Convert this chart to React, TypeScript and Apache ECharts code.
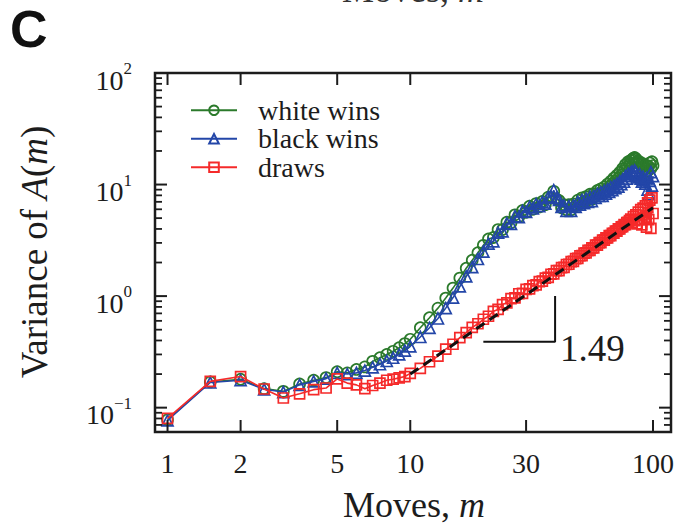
import React, { useEffect, useRef } from 'react';
import * as echarts from 'echarts';

// ---------- data ----------
const moves = [
  1, 1.5, 2, 2.5, 3, 3.5, 4, 4.5, 5, 5.5, 6, 6.5, 7, 7.5, 8, 8.5, 9, 9.5, 10,
  11, 12, 13, 14, 15, 16, 17, 18, 19, 20,
  21, 22, 23, 24, 25, 26, 27, 28, 29, 30,
  31, 32, 33, 34, 35, 36, 37, 38, 39, 40,
  41, 42, 43, 44, 45, 46, 47, 48, 49, 50,
  51, 52, 53, 54, 55, 56, 57, 58, 59, 60,
  61, 62, 63, 64, 65, 66, 67, 68, 69, 70,
  71, 72, 73, 74, 75, 76, 77, 78, 79, 80,
  81, 82, 83, 84, 85, 86, 87, 88, 89, 90,
  91, 92, 93, 94, 95, 96, 97, 98, 99, 100,
];

const whiteWins = [
  0.078, 0.17, 0.18, 0.148, 0.14, 0.163, 0.176, 0.186, 0.21, 0.205, 0.22, 0.232, 0.26, 0.28, 0.3, 0.32, 0.345, 0.375, 0.41,
  0.52, 0.64, 0.78, 0.96, 1.18, 1.45, 1.78, 2.1, 2.45, 2.85,
  3.25, 3.35, 3.95, 3.95, 4.6, 4.55, 5.35, 5.15, 5.85, 5.65,
  6.4, 6.0, 6.75, 6.3, 7.05, 6.6, 7.7, 7.6, 8.7, 7.4,
  7.2, 6.2, 6.6, 5.95, 6.6, 5.95, 6.7, 6.45, 7.25, 6.7,
  7.6, 7.0, 7.8, 7.3, 8.2, 7.4, 8.3, 7.9, 8.85, 8.25,
  9.15, 8.45, 9.5, 8.9, 10.1, 9.5, 10.7, 10.2, 11.45, 10.75,
  12.1, 11.4, 12.9, 12.2, 13.9, 13.2, 15.1, 14.4, 16.0, 15.3,
  16.4, 16.8, 17.2, 17.5, 17.0, 16.2, 15.6, 16.0, 15.1, 14.3,
  15.4, 14.6, 13.8, 14.9, 13.2, 14.5, 15.6, 13.9, 16.0, 14.8,
];

const blackWins = [
  0.077, 0.168, 0.176, 0.146, 0.138, 0.16, 0.172, 0.182, 0.205, 0.2, 0.205, 0.215, 0.23, 0.245, 0.262, 0.28, 0.3, 0.325, 0.355,
  0.43, 0.52, 0.63, 0.78, 0.97, 1.22, 1.5, 1.82, 2.15, 2.5,
  2.95, 3.1, 3.7, 3.8, 4.5, 4.45, 5.2, 5.1, 5.8, 5.7,
  6.3, 6.1, 6.7, 6.4, 7.0, 6.75, 7.7, 7.8, 8.9, 7.6,
  7.3, 6.3, 6.5, 5.8, 6.4, 5.8, 6.5, 6.3, 7.0, 6.6,
  7.3, 6.8, 7.5, 7.0, 7.8, 7.1, 7.9, 7.6, 8.3, 7.9,
  8.5, 7.9, 8.8, 8.3, 9.1, 8.6, 9.5, 8.9, 9.8, 9.3,
  10.2, 9.6, 10.7, 10.1, 11.2, 10.6, 11.9, 11.3, 12.5, 12.0,
  12.8, 13.1, 12.6, 13.4, 12.9, 12.2, 11.6, 12.4, 11.3, 10.6,
  11.8, 10.9, 10.2, 11.5, 9.0, 8.2, 10.8, 12.9, 9.8, 11.9,
];

const draws = [
  0.08, 0.172, 0.19, 0.147, 0.122, 0.133, 0.145, 0.15, 0.181, 0.166, 0.16, 0.148, 0.158, 0.166, 0.176, 0.18, 0.185, 0.19, 0.203,
  0.225, 0.258, 0.29, 0.335, 0.37, 0.425, 0.47, 0.525, 0.565, 0.62,
  0.66, 0.73, 0.76, 0.84, 0.87, 0.95, 0.965, 1.05, 1.06, 1.15,
  1.16, 1.24, 1.26, 1.35, 1.36, 1.45, 1.47, 1.57, 1.58, 1.69,
  1.69, 1.8, 1.81, 1.92, 1.93, 2.04, 2.05, 2.17, 2.18, 2.3,
  2.31, 2.43, 2.44, 2.57, 2.57, 2.71, 2.71, 2.86, 2.86, 3.02,
  3.01, 3.17, 3.17, 3.32, 3.32, 3.49, 3.49, 3.66, 3.66, 3.83,
  3.82, 4.0, 4.0, 4.18, 4.2, 4.38, 4.36, 4.55, 4.58, 4.75,
  4.9, 4.55, 5.15, 4.75, 5.35, 4.45, 5.65, 4.85, 5.95, 4.35,
  6.15, 4.95, 6.45, 4.15, 6.85, 4.85, 7.25, 4.05, 7.6, 5.5,
];

const fitLine = [[10, 0.2], [100, 6.2]];
const slopeGuide = [[20, 0.39], [39.5, 0.39], [39.5, 1.0]];
const slopeLabelAt = [39.5, 0.39];
const slopeLabel = '1.49';

const xTickValues = [1, 2, 5, 10, 30, 100];
const xTickLabels = ['1', '2', '5', '10', '30', '100'];
const yMajorValues = [0.1, 1, 10, 100];
const yMajorExponents = ['\u22121', '0', '1', '2'];
const yMinorValues = [0.07, 0.08, 0.09, 0.2, 0.3, 0.4, 0.5, 0.6, 0.7, 0.8, 0.9, 2, 3, 4, 5, 6, 7, 8, 9, 20, 30, 40, 50, 60, 70, 80, 90];

const X_MIN = 0.888;
const X_MAX = 118.6;
const Y_MIN = 0.0605;
const Y_MAX = 100;

const SERIF = 'Liberation Serif';
const INK = '#1c1c1c';
const GREEN = '#2b7a2b';
const BLUE = '#2346a8';
const RED = '#f52a2a';

function dataSeries(name: string, values: number[], color: string, symbol: string, size: number, z: number) {
  return {
    name,
    type: 'line',
    data: moves.map((m, i) => [m, values[i]]),
    symbol,
    symbolSize: size,
    showSymbol: true,
    showAllSymbol: true,
    lineStyle: { color, width: 1.6 },
    itemStyle: { color: 'rgba(255,255,255,0)', borderColor: color, borderWidth: 1.7 },
    emphasis: { disabled: true },
    silent: true,
    z,
  };
}

export default function App() {
  const ref = useRef<HTMLDivElement>(null);

  useEffect(() => {
    if (!ref.current) return;
    const chart = echarts.init(ref.current, undefined, { renderer: 'svg' });

    const option: any = {
      animation: false,
      backgroundColor: '#ffffff',
      grid: {
        show: true,
        left: 155,
        top: 73,
        width: 516,
        height: 359,
        borderColor: INK,
        borderWidth: 2.5,
        backgroundColor: 'transparent',
      },
      xAxis: {
        type: 'log',
        logBase: 10,
        min: X_MIN,
        max: X_MAX,
        axisLine: { show: false },
        axisTick: { show: false },
        axisLabel: { show: false },
        splitLine: { show: false },
        minorTick: { show: false },
      },
      yAxis: {
        type: 'log',
        logBase: 10,
        min: Y_MIN,
        max: Y_MAX,
        axisLine: { show: false },
        axisTick: { show: false },
        axisLabel: { show: false },
        splitLine: { show: false },
        minorTick: { show: false },
      },
      legend: {
        data: ['white wins', 'black wins', 'draws'],
        orient: 'vertical',
        left: 185,
        top: 91,
        itemWidth: 46,
        itemHeight: 12,
        itemGap: 0,
        selectedMode: false,
        textStyle: {
          fontFamily: SERIF,
          fontSize: 28,
          color: INK,
          lineHeight: 28.5,
          padding: [0, 0, 0, 16],
        },
      },
      graphic: [
        {
          type: 'text',
          x: 10,
          y: 29,
          style: {
            text: 'C',
            fontFamily: 'Liberation Sans',
            fontWeight: 'bold',
            fontSize: 52,
            fill: '#111',
            align: 'left',
            verticalAlign: 'middle',
          },
        },
        {
          type: 'text',
          x: 413,
          y: -10,
          style: {
            text: 'Moves, {i|m}',
            rich: { i: { fontStyle: 'italic', fontFamily: SERIF, fontSize: 36 } },
            fontFamily: SERIF,
            fontSize: 36,
            fill: '#333',
            align: 'center',
            verticalAlign: 'middle',
          },
        },
        {
          type: 'text',
          x: 414,
          y: 505,
          style: {
            text: 'Moves, {i|m}',
            rich: { i: { fontStyle: 'italic', fontFamily: SERIF, fontSize: 36, fill: INK } },
            fontFamily: SERIF,
            fontSize: 36,
            fill: INK,
            align: 'center',
            verticalAlign: 'middle',
          },
        },
        {
          type: 'text',
          x: 34,
          y: 252,
          rotation: Math.PI / 2,
          style: {
            text: 'Variance of {i|A}({i|m})',
            rich: { i: { fontStyle: 'italic', fontFamily: SERIF, fontSize: 37, fill: INK } },
            fontFamily: SERIF,
            fontSize: 37,
            fill: INK,
            align: 'center',
            verticalAlign: 'middle',
          },
        },
      ],
      series: [
        dataSeries('white wins', whiteWins, GREEN, 'circle', 11, 2),
        dataSeries('black wins', blackWins, BLUE, 'triangle', 11, 3),
        dataSeries('draws', draws, RED, 'rect', 10, 4),
        {
          name: 'fit',
          type: 'line',
          data: fitLine,
          symbol: 'none',
          lineStyle: { color: '#111', width: 3, type: [10, 6] },
          silent: true,
          z: 6,
        },
        {
          name: 'slope',
          type: 'line',
          data: slopeGuide,
          symbol: 'none',
          lineStyle: { color: '#111', width: 2 },
          silent: true,
          z: 6,
        },
        {
          name: 'slopeLabel',
          type: 'custom',
          data: [slopeLabelAt],
          clip: false,
          silent: true,
          z: 7,
          renderItem: (params: any, api: any) => {
            const p = api.coord([api.value(0), api.value(1)]);
            return {
              type: 'text',
              x: p[0] + 5,
              y: p[1] + 7,
              style: {
                text: slopeLabel,
                fontFamily: SERIF,
                fontSize: 37,
                fill: INK,
                align: 'left',
                verticalAlign: 'middle',
              },
            };
          },
        },
        {
          name: 'xticks',
          type: 'custom',
          data: xTickValues.map((v) => [v, Y_MIN]),
          clip: false,
          silent: true,
          z: 8,
          renderItem: (params: any, api: any) => {
            const v = api.value(0);
            const b = api.coord([v, Y_MIN]);
            const t = api.coord([v, Y_MAX]);
            return {
              type: 'group',
              children: [
                { type: 'line', shape: { x1: b[0], y1: b[1], x2: b[0], y2: b[1] - 12 }, style: { stroke: INK, lineWidth: 2 } },
                { type: 'line', shape: { x1: t[0], y1: t[1], x2: t[0], y2: t[1] + 12 }, style: { stroke: INK, lineWidth: 2 } },
                {
                  type: 'text',
                  x: b[0],
                  y: b[1] + 31,
                  style: {
                    text: xTickLabels[params.dataIndex],
                    fontFamily: SERIF,
                    fontSize: 28,
                    fill: INK,
                    align: 'center',
                    verticalAlign: 'middle',
                  },
                },
              ],
            };
          },
        },
        {
          name: 'yminor',
          type: 'custom',
          data: yMinorValues.map((v) => [X_MIN, v]),
          clip: false,
          silent: true,
          z: 8,
          renderItem: (params: any, api: any) => {
            const v = api.value(1);
            const l = api.coord([X_MIN, v]);
            const r = api.coord([X_MAX, v]);
            return {
              type: 'group',
              children: [
                { type: 'line', shape: { x1: l[0], y1: l[1], x2: l[0] + 7, y2: l[1] }, style: { stroke: INK, lineWidth: 1.8 } },
                { type: 'line', shape: { x1: r[0], y1: r[1], x2: r[0] - 7, y2: r[1] }, style: { stroke: INK, lineWidth: 1.8 } },
              ],
            };
          },
        },
        {
          name: 'ymajor',
          type: 'custom',
          data: yMajorValues.map((v) => [X_MIN, v]),
          clip: false,
          silent: true,
          z: 8,
          renderItem: (params: any, api: any) => {
            const v = api.value(1);
            const l = api.coord([X_MIN, v]);
            const r = api.coord([X_MAX, v]);
            return {
              type: 'group',
              children: [
                { type: 'line', shape: { x1: l[0], y1: l[1], x2: l[0] + 12, y2: l[1] }, style: { stroke: INK, lineWidth: 2 } },
                { type: 'line', shape: { x1: r[0], y1: r[1], x2: r[0] - 12, y2: r[1] }, style: { stroke: INK, lineWidth: 2 } },
                {
                  type: 'text',
                  x: l[0] - 23,
                  y: l[1] + 4,
                  style: {
                    text: '{b|10}{s|' + yMajorExponents[params.dataIndex] + '}',
                    rich: {
                      b: { fontFamily: SERIF, fontSize: 28, lineHeight: 34, verticalAlign: 'bottom', fill: INK },
                      s: { fontFamily: SERIF, fontSize: 17, lineHeight: 17, verticalAlign: 'top', fill: INK },
                    },
                    fill: INK,
                    align: 'right',
                    verticalAlign: 'middle',
                  },
                },
              ],
            };
          },
        },
      ],
    };

    chart.setOption(option);
    return () => chart.dispose();
  }, []);

  return (
    <div
      ref={ref}
      style={{ position: 'fixed', left: 0, top: 0, width: 677, height: 527, background: '#fff' }}
    />
  );
}
